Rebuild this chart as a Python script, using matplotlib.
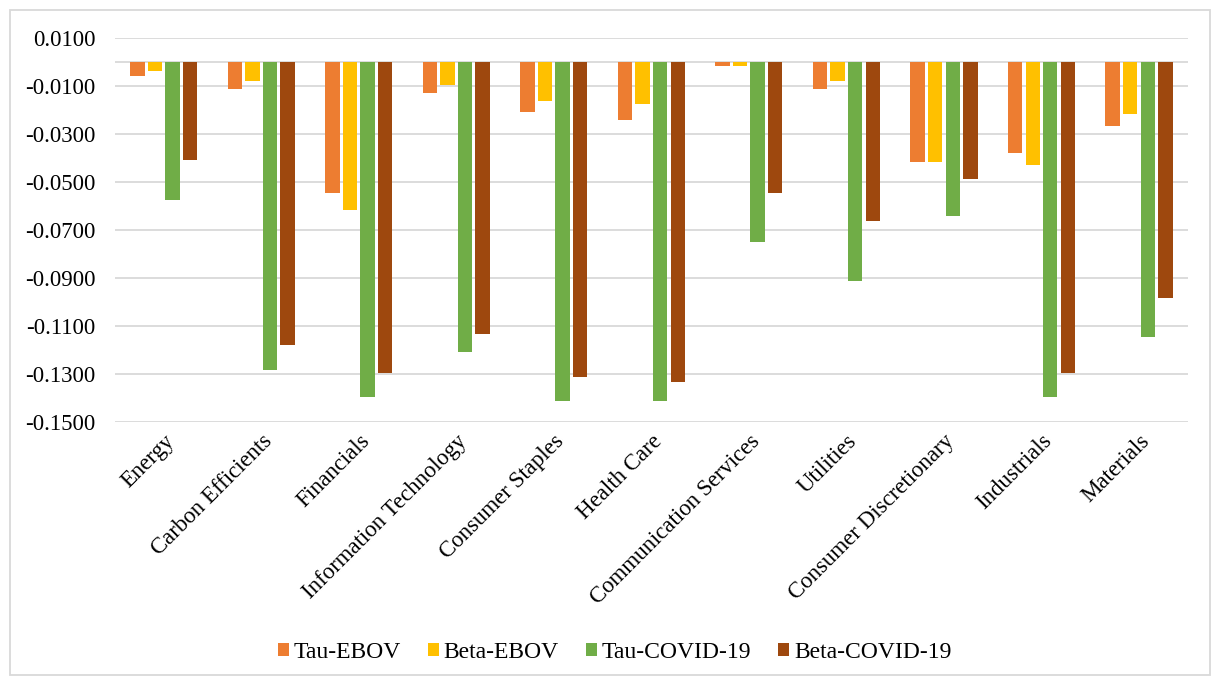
import matplotlib.pyplot as plt
import matplotlib.patches as patches
import numpy as np

# sectors and series
sectors = ['Energy', 'Carbon Efficients', 'Financials', 'Information Technology',
           'Consumer Staples', 'Health Care', 'Communication Services', 'Utilities',
           'Consumer Discretionary', 'Industrials', 'Materials']
series = ['Tau-EBOV', 'Beta-EBOV', 'Tau-COVID-19', 'Beta-COVID-19']

tau_ebov = [-0.0056, -0.0110, -0.0544, -0.0128, -0.0207, -0.0240, -0.0015, -0.0110, -0.0414, -0.0378, -0.0265]
beta_ebov = [-0.0037, -0.0078, -0.0617, -0.0094, -0.0160, -0.0176, -0.0017, -0.0077, -0.0417, -0.0430, -0.0214]
tau_covid = [-0.0575, -0.1283, -0.1394, -0.1207, -0.1413, -0.1413, -0.0748, -0.0913, -0.0640, -0.1397, -0.1144]
beta_covid = [-0.0409, -0.1179, -0.1294, -0.1131, -0.1310, -0.1333, -0.0544, -0.0660, -0.0487, -0.1297, -0.0983]

colors = ['#ED7D31', '#FFC000', '#70AD47', '#9E480E']

plt.rcParams['font.family'] = ['Liberation Serif', 'DejaVu Serif']

fig = plt.figure(figsize=(12.17, 6.81), dpi=100)
ax = fig.add_axes([0.0945, 0.380, 0.8815, 0.564])

x = np.arange(len(sectors))
step = 0.18
w = 0.148
for i, (vals, name) in enumerate(zip([tau_ebov, beta_ebov, tau_covid, beta_covid], series)):
    ax.bar(x + (i - 1.5) * step, vals, w, color=colors[i], label=name, zorder=3)

ax.set_xlim(-0.5, len(sectors) - 0.5)
ax.set_ylim(-0.15, 0.01)
ticks = np.arange(0.01, -0.151, -0.02)
ax.set_yticks(ticks)
ax.set_yticklabels(['%.4f' % v for v in ticks])
ax.axhline(0, color='#d9d9d9', lw=1.3, zorder=2)
ax.grid(axis='y', color='#d9d9d9', lw=1.3, zorder=0)
for s in ax.spines.values():
    s.set_visible(False)
ax.tick_params(axis='y', length=0, pad=14, labelsize=16.5)
ax.tick_params(axis='x', length=0, pad=6, labelsize=16.5)
ax.set_xticks(x)
ax.set_xticklabels(sectors, rotation=45, ha='right', va='top', rotation_mode='anchor')

fig.legend(loc='lower center', bbox_to_anchor=(0.505, -0.005), ncol=4, frameon=False,
           fontsize=17, handlelength=0.47, handleheight=0.47, handletextpad=0.2,
           columnspacing=1.15)

# outer chart border
fig.patches.append(patches.Rectangle((10 / 1217, 6 / 681), 1200 / 1217, 665 / 681,
                                     transform=fig.transFigure, fill=False,
                                     edgecolor='#d9d9d9', lw=1.3))

fig.savefig('out.png', dpi=100)
